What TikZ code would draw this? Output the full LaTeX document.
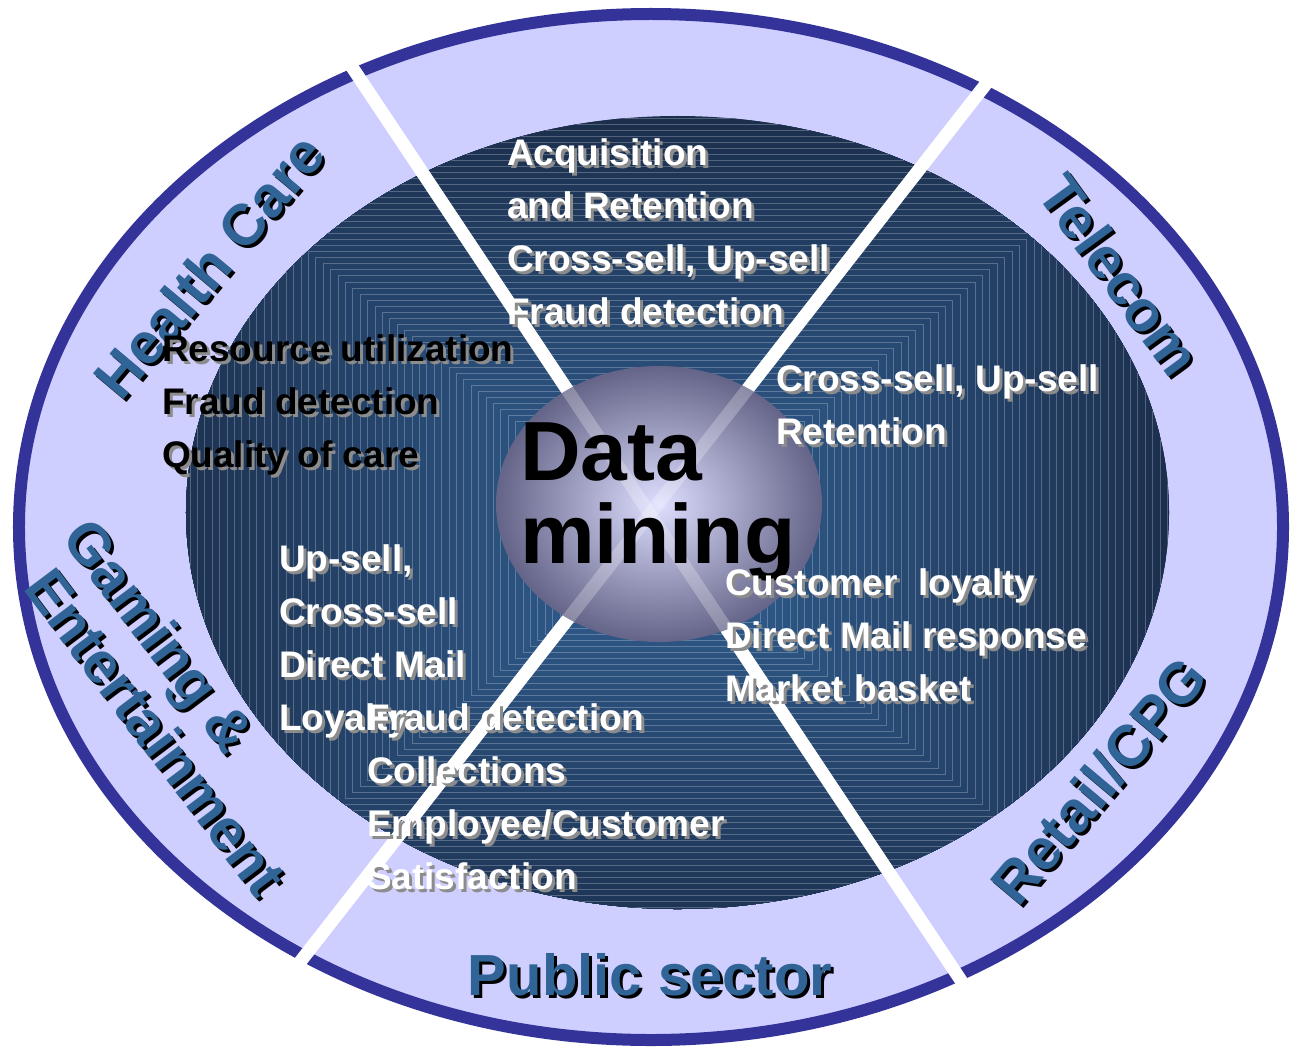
\documentclass[tikz,border=0pt]{standalone}
\usepackage{fontspec}
\setmainfont{Liberation Sans}
\usetikzlibrary{calc}
\definecolor{ringfill}{RGB}{206,206,255}
\definecolor{ringedge}{RGB}{51,51,153}
\definecolor{innerdark}{RGB}{27,46,76}
\definecolor{innerlight}{RGB}{50,97,148}
\definecolor{sectorblue}{RGB}{48,100,150}
\definecolor{sphereedge}{RGB}{100,100,136}
\definecolor{spherecore}{RGB}{222,222,255}
\definecolor{softshadow}{RGB}{140,140,140}
\tikzset{
  every node/.style={inner sep=0pt, outer sep=0pt},
  itemfont/.style={font=\fontsize{37bp}{44bp}\selectfont\bfseries, anchor=base west},
  whiteitem/.style={itemfont, text=white},
  blackitem/.style={itemfont, text=black},
  sectorlabel/.style={font=\fontsize{58bp}{66bp}\selectfont\bfseries, text=sectorblue},
  divider/.style={draw=white, line width=13bp},
  centerword/.style={font=\fontsize{84bp}{90bp}\selectfont\bfseries, text=black, anchor=base west},
}
% text with a drop shadow: #1 shadow colour, #2 horizontal shift, #3 vertical raise, #4 text
\newcommand{\dropshadow}[4]{%
  \rlap{\smash{\hspace*{#2}\raisebox{#3}{\textcolor{#1}{#4}}}}#4}
\newcommand{\itemblock}[5]{%
  \foreach \itm [count=\k] in {#5} {%
    \pgfmathsetmacro{\yy}{#3+53*(\k-1)}%
    \node[#4] (#1\k) at (#2,\yy) {\dropshadow{softshadow}{3bp}{-3bp}{\itm}};%
  }%
}
\newcommand{\sectortext}[5]{%
  \pgfmathsetmacro{\shx}{3*cos(#4)-3*sin(#4)}%
  \pgfmathsetmacro{\shy}{-3*sin(#4)-3*cos(#4)}%
  \node[sectorlabel, rotate=#4] (#1) at (#2,#3) {\dropshadow{black}{\shx bp}{\shy bp}{#5}};%
}
\begin{document}
\begin{tikzpicture}[x=1bp, y=-1bp]
\fill[white] (0,0) rectangle (1291,1051);
\useasboundingbox (0,0) rectangle (1291,1051);

% outer ring
\filldraw[fill=ringfill, draw=ringedge, line width=12bp] (651,527) ellipse [x radius=632bp, y radius=513bp];

% inner dark ellipse with rectangular gradient
\begin{scope}
  \clip (677.5,512.5) ellipse [x radius=491.5bp, y radius=396.5bp];
  \foreach \i in {0,...,70} {
    \pgfmathsetmacro{\hw}{522-\i*7.4}
    \pgfmathsetmacro{\hh}{\hw*0.82}
    \pgfmathtruncatemacro{\p}{\i*100/70}
    \filldraw[fill=innerlight!\p!innerdark, draw=innerlight!\p!innerdark!76!white, line width=0.6bp]
      ({660-\hw},{540-\hh}) rectangle ({660+\hw},{540+\hh});
  }
\end{scope}

% dividing lines
\coordinate (X) at (650,514);
\coordinate (L1a) at (300,-11);
\coordinate (L1b) at (1000,1039);
\coordinate (L2a) at (1030,27.6);
\coordinate (L2b) at (270,1000.4);
\begin{scope}
  \clip (651,527) ellipse [x radius=639bp, y radius=520bp];
  \draw[divider] (L1a) -- (L1b);
  \draw[divider] (L2a) -- (L2b);
\end{scope}

% central sphere
\shade[inner color=spherecore, outer color=sphereedge] (659,504) ellipse [x radius=163bp, y radius=138bp];
\begin{scope}
  \clip (659,504) ellipse [x radius=163bp, y radius=138bp];
  \draw[divider, draw opacity=0.25] (L1a) -- (L1b);
  \draw[divider, draw opacity=0.25] (L2a) -- (L2b);
\end{scope}

\node[centerword] (data) at (520,480) {Data};
\node[centerword] (mining) at (520,563) {mining};

% sector labels
\sectortext{healthcare}{209}{266}{50}{Health Care}
\sectortext{telecom}{1120}{275}{-54}{Telecom}
\sectortext{retail}{1099}{781}{50}{Retail/CPG}
\sectortext{gaming}{155}{639}{-53}{Gaming \&}
\sectortext{entertain}{156}{732}{-53}{Entertainment}
\sectortext{public}{650}{975}{0}{Public sector}

% item lists
\itemblock{top}{507}{165}{whiteitem}{Acquisition, and Retention, {Cross-sell, Up-sell}, Fraud detection}
\itemblock{hc}{162}{361}{blackitem}{Resource utilization, Fraud detection, Quality of care}
\itemblock{tc}{776}{391}{whiteitem}{{Cross-sell, Up-sell}, Retention}
\itemblock{rt}{725}{595}{whiteitem}{Customer~ loyalty, Direct Mail response, Market basket}
\itemblock{gm}{279}{571}{whiteitem}{{Up-sell,}, Cross-sell, Direct Mail, Loyalty}
\itemblock{ps}{367}{730}{whiteitem}{Fraud detection, Collections, Employee/Customer, Satisfaction}
\end{tikzpicture}
\end{document}
